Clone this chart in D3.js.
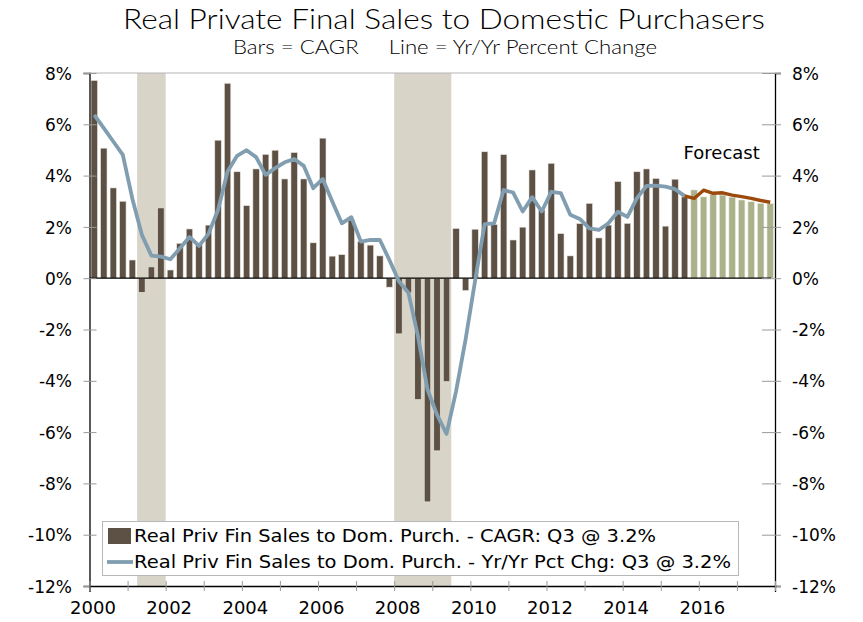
<!DOCTYPE html>
<html>
<head>
<meta charset="utf-8">
<script src="https://cdn.jsdelivr.net/npm/d3@7"></script>
<style>
  body { margin: 0; background: #fff; }
  svg text { fill: #000; }
</style>
</head>
<body>
<div id="chart"></div>
<script>
// quarterly data, 2000 Q1 .. 2015 Q3 actual, 2015 Q4 .. 2017 Q4 forecast
var firstYear = 2000, lastYear = 2018;
var cagr = [
  7.71, 5.07, 3.52, 3.00,
  0.71, -0.55, 0.44, 2.74,
  0.32, 1.36, 1.92, 1.35,
  2.07, 5.38, 7.60, 4.15,
  2.83, 4.26, 4.83, 4.99,
  3.87, 4.90, 3.87, 1.38,
  5.46, 0.86, 0.92, 2.27,
  1.43, 1.29, 0.87, -0.35,
  -2.17, -0.57, -4.73, -8.72,
  -6.73, -4.03, 1.94, -0.48,
  1.91, 4.93, 2.09, 4.82,
  1.49, 1.99, 4.22, 2.66,
  4.48, 1.74, 0.87, 2.13,
  2.92, 1.57, 2.07, 3.77,
  2.14, 4.15, 4.26, 3.89,
  2.03, 3.86, 3.17
];
var cagrForecast = [3.44, 3.17, 3.26, 3.24, 3.16, 3.05, 2.98, 2.92, 2.91];
var yoy = [
  6.37, 5.85, 5.33, 4.81,
  3.10, 1.69, 0.88, 0.84,
  0.74, 1.17, 1.61, 1.26,
  1.73, 2.66, 4.16, 4.77,
  4.99, 4.72, 4.03, 4.29,
  4.52, 4.65, 4.38, 3.51,
  3.87, 2.99, 2.14, 2.38,
  1.43, 1.49, 1.49, 0.71,
  -0.12, -0.57, -2.26, -4.34,
  -5.32, -6.07, -4.41, -2.39,
  -0.10, 2.11, 2.14, 3.44,
  3.34, 2.60, 3.16, 2.60,
  3.37, 3.32, 2.47, 2.31,
  1.94, 1.88, 2.14, 2.59,
  2.39, 3.12, 3.60, 3.61,
  3.57, 3.47, 3.21
];
var yoyForecast = [3.11, 3.43, 3.31, 3.33, 3.24, 3.18, 3.11, 3.03, 2.96];
// recessions as [start, end) in fractional years
var recessions = [[2001.25, 2002.0], [2008.0, 2009.5]];
var yTicks = [8, 6, 4, 2, 0, -2, -4, -6, -8, -10, -12];
var legendLabels = [
  "Real Priv Fin Sales to Dom. Purch. - CAGR: Q3 @ 3.2%",
  "Real Priv Fin Sales to Dom. Purch. - Yr/Yr Pct Chg: Q3 @ 3.2%"
];

var width = 863, height = 622;
var margin = {top: 73, right: 88, bottom: 36, left: 89.5};
var plotRight = width - margin.right, plotBottom = height - margin.bottom;

var colBar = "#5d5045", colFcst = "#a9b28a", colShade = "#d8d4c8",
    colLine = "#819eb0", colFLine = "#9b4a0c";

// quarter index -> fractional year at the quarter's center
function qYear(i) { return firstYear + (i + 0.5) / 4; }

var svg = d3.select("#chart").append("svg")
    .attr("width", width)
    .attr("height", height)
    .style("font-family", "'DejaVu Sans', Verdana, sans-serif");

var x = d3.scaleLinear().domain([firstYear, lastYear]).range([margin.left, plotRight]);
var y = d3.scaleLinear().domain([8, -12]).range([margin.top, plotBottom]);
var barW = (x(firstYear + 0.25) - x(firstYear)) * 0.68;

// title
svg.append("text")
    .attr("x", 444).attr("y", 29)
    .attr("text-anchor", "middle")
    .attr("textLength", 642).attr("lengthAdjust", "spacingAndGlyphs")
    .style("font-family", "Lato, 'Open Sans', sans-serif")
    .style("font-weight", 300)
    .style("font-size", "28px")
    .text("Real Private Final Sales to Domestic Purchasers");
svg.append("text")
    .attr("x", 445).attr("y", 54)
    .attr("text-anchor", "middle")
    .attr("textLength", 424).attr("lengthAdjust", "spacingAndGlyphs")
    .style("font-family", "Lato, 'Open Sans', sans-serif")
    .style("font-weight", 300)
    .style("font-size", "19px")
    .style("white-space", "pre")
    .attr("xml:space", "preserve")
    .text("Bars = CAGR     Line = Yr/Yr Percent Change");

// recession shading
svg.append("g").selectAll("rect")
    .data(recessions)
  .enter().append("rect")
    .attr("x", function(d) { return x(d[0]); })
    .attr("width", function(d) { return x(d[1]) - x(d[0]); })
    .attr("y", margin.top)
    .attr("height", plotBottom - margin.top)
    .attr("fill", colShade);

// top border
svg.append("line")
    .attr("x1", margin.left).attr("x2", plotRight)
    .attr("y1", margin.top).attr("y2", margin.top)
    .attr("stroke", "#b4b4b4").attr("stroke-width", 1);

// bars
var barData = cagr.map(function(v, i) { return {i: i, v: v, f: false}; })
  .concat(cagrForecast.map(function(v, j) { return {i: cagr.length + j, v: v, f: true}; }));

svg.append("g").selectAll("rect")
    .data(barData)
  .enter().append("rect")
    .attr("x", function(d) { return x(qYear(d.i)) - barW / 2; })
    .attr("width", barW)
    .attr("y", function(d) { return y(Math.max(0, d.v)); })
    .attr("height", function(d) { return Math.abs(y(d.v) - y(0)); })
    .attr("fill", function(d) { return d.f ? colFcst : colBar; })
    .attr("stroke", "#ece8e0")
    .attr("stroke-width", 0.6);

// zero line
svg.append("line")
    .attr("x1", margin.left).attr("x2", plotRight - 4)
    .attr("y1", y(0)).attr("y2", y(0))
    .attr("stroke", "#000").attr("stroke-width", 1.3);

// lines
var line = d3.line()
    .x(function(d) { return x(qYear(d[0])); })
    .y(function(d) { return y(d[1]); });

var yoyPts = yoy.map(function(v, i) { return [i, v]; });
var fPts = [[yoy.length - 1, yoy[yoy.length - 1]]]
  .concat(yoyForecast.map(function(v, j) { return [yoy.length + j, v]; }));

svg.append("path")
    .datum(yoyPts)
    .attr("fill", "none")
    .attr("stroke", colLine)
    .attr("stroke-width", 3.8)
    .attr("stroke-linejoin", "round")
    .attr("d", line);
svg.append("path")
    .datum(fPts)
    .attr("fill", "none")
    .attr("stroke", colFLine)
    .attr("stroke-width", 3.4)
    .attr("stroke-linejoin", "round")
    .attr("d", line);

// y axes
var yLeft = svg.append("g")
    .attr("transform", "translate(" + margin.left + ",0)")
    .call(d3.axisLeft(y).tickValues(yTicks).tickFormat(function(d) { return d + "%"; }));
var yRight = svg.append("g")
    .attr("transform", "translate(" + plotRight + ",0)")
    .call(d3.axisRight(y).tickValues(yTicks).tickFormat(function(d) { return d + "%"; }));

[yLeft, yRight].forEach(function(g, k) {
  g.select(".domain").attr("stroke", "#000").attr("stroke-width", 1.3);
  g.selectAll(".tick line")
    .attr("x1", k ? -13 : -6).attr("x2", k ? 6 : 7)
    .attr("stroke", "#9a9a9a");
  g.selectAll(".tick text")
    .attr("x", k ? 17 : -17.5)
    .attr("dy", "0.36em")
    .style("font-size", "17px")
    .style("font-family", "'DejaVu Sans', Verdana, sans-serif");
});

// x axis
var xAxis = svg.append("g")
    .attr("transform", "translate(0," + plotBottom + ")")
    .call(d3.axisBottom(x)
      .tickValues(d3.range(firstYear, lastYear + 1))
      .tickFormat(function(d) { return (d % 2 === 0 && d < lastYear) ? d : ""; }));
xAxis.select(".domain").attr("stroke", "#000").attr("stroke-width", 1.3);
xAxis.selectAll(".tick line")
    .attr("y1", -5).attr("y2", 5)
    .attr("stroke", "#9a9a9a");
xAxis.selectAll(".tick text")
    .attr("y", 15).attr("dx", 3)
    .style("font-size", "18px")
    .style("font-family", "'DejaVu Sans', Verdana, sans-serif");

// forecast label
svg.append("text")
    .attr("x", x(2015.6)).attr("y", 159)
    .style("font-size", "18px")
    .text("Forecast");

// legend
var lg = svg.append("g");
lg.append("rect")
    .attr("x", 102.5).attr("y", 521.5)
    .attr("width", 636).attr("height", 54)
    .attr("fill", "#fff")
    .attr("stroke", "#b8b8b8");
lg.append("rect")
    .attr("x", 108).attr("y", 528)
    .attr("width", 23).attr("height", 16)
    .attr("fill", colBar);
lg.append("line")
    .attr("x1", 107).attr("x2", 133)
    .attr("y1", 562).attr("y2", 562)
    .attr("stroke", colLine).attr("stroke-width", 3.8);
lg.selectAll("text.leg")
    .data(legendLabels)
  .enter().append("text")
    .attr("class", "leg")
    .attr("x", 134)
    .attr("y", function(d, i) { return 542 + i * 26; })
    .attr("textLength", function(d, i) { return i ? 597 : 522; })
    .attr("lengthAdjust", "spacingAndGlyphs")
    .style("font-size", "18px")
    .text(function(d) { return d; });
</script>
</body>
</html>
